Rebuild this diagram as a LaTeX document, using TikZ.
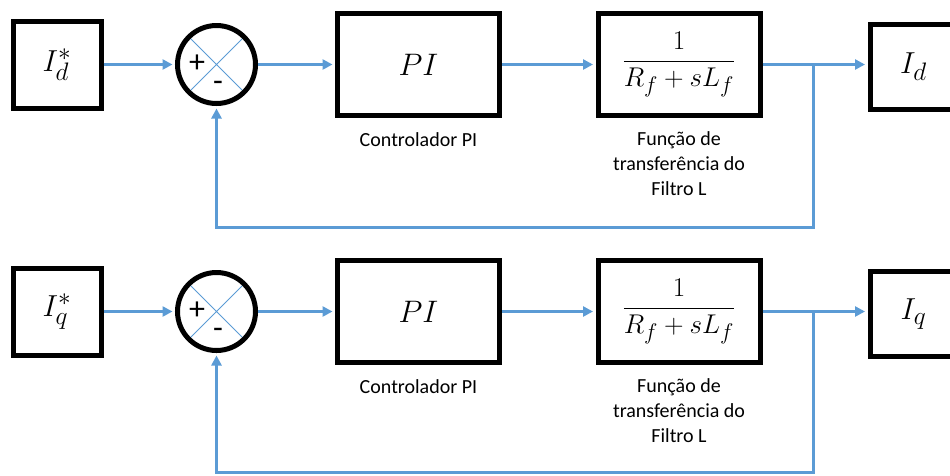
\documentclass[tikz,border=0pt]{standalone}
\usepackage{graphicx}
\usepackage[no-math]{fontspec}
\setmainfont{Carlito}
\usetikzlibrary{arrows.meta}

\definecolor{sigblue}{RGB}{91,155,213}
\tikzset{
  blk/.style={draw, line width=5pt, minimum width=162pt, minimum height=102pt, inner sep=0pt,
    font=\fontsize{24.88}{30}\selectfont},
  refbox/.style={blk, minimum width=88pt, minimum height=87pt},
  outbox/.style={blk, minimum width=87pt, minimum height=85pt},
  sumnode/.style={draw, circle, line width=5pt, minimum size=78pt, inner sep=0pt,
    path picture={\draw[sigblue, line width=1pt]
      (path picture bounding box.north west) -- (path picture bounding box.south east)
      (path picture bounding box.north east) -- (path picture bounding box.south west);}},
  sig/.style={sigblue, line width=3pt, -{Triangle[length=10pt,width=10pt]}, shorten >=2.5pt},
  fb/.style={sigblue, line width=3pt},
  lbl/.style={font=\fontsize{20}{25}\selectfont, align=center},
  sgn/.style={font=\fontsize{32}{32}\selectfont, inner sep=0pt}
}

\begin{document}
\begin{tikzpicture}[x=1pt, y=-1pt]
\useasboundingbox (0,0) rectangle (950,475);
\clip (0,0) rectangle (950,475);

% eixo d
\node[refbox] (Idref) at (57,64.5) {\scalebox{1.22}{$I_d^*$}};
\node[sumnode] (sumd) at (216.5,64.5) {};
\node[sgn] (plusd) at (197,64) {+};
\node[sgn] (minusd) at (218,86) {-};
\node[blk] (PId) at (418.5,64.5) {\scalebox{1.25}{$PI$}};
\node[blk] (Gd) at (679,64.5) {\scalebox{1.09}{$\displaystyle\frac{1}{R_f + sL_f}$}};
\node[outbox, anchor=west] (Id) at (867.5,67) {\scalebox{1.22}{$I_d$}};
\node[lbl] (pilbld) at (418.5,140) {Controlador PI};
\node[lbl] (glbld) at (679,164) {Função de\\transferência do\\Filtro L};
\coordinate (brd) at (813,64.5);
\coordinate (fbd) at (813,227);

\draw[sig] (Idref.east) -- (sumd.west);
\draw[sig] (sumd.east) -- (PId.west);
\draw[sig] (PId.east) -- (Gd.west);
\draw[fb] (Gd.east) -- (brd);
\draw[sig] (brd) -- (brd -| Id.west);
\draw[sig] (brd) -- (fbd) -| (sumd.south);

% eixo q
\node[refbox] (Iqref) at (57,311.5) {\scalebox{1.22}{$I_q^*$}};
\node[sumnode] (sumq) at (216.5,311.5) {};
\node[sgn] (plusq) at (197,311) {+};
\node[sgn] (minusq) at (218,333) {-};
\node[blk] (PIq) at (418.5,311.5) {\scalebox{1.25}{$PI$}};
\node[blk] (Gq) at (679,311.5) {\scalebox{1.09}{$\displaystyle\frac{1}{R_f + sL_f}$}};
\node[outbox, anchor=west] (Iq) at (867.5,314) {\scalebox{1.22}{$I_q$}};
\node[lbl] (pilblq) at (418.5,387) {Controlador PI};
\node[lbl] (glblq) at (679,411) {Função de\\transferência do\\Filtro L};
\coordinate (brq) at (813,311.5);
\coordinate (fbq) at (813,472);

\draw[sig] (Iqref.east) -- (sumq.west);
\draw[sig] (sumq.east) -- (PIq.west);
\draw[sig] (PIq.east) -- (Gq.west);
\draw[fb] (Gq.east) -- (brq);
\draw[sig] (brq) -- (brq -| Iq.west);
\draw[sig] (brq) -- (fbq) -| (sumq.south);

\end{tikzpicture}
\end{document}
